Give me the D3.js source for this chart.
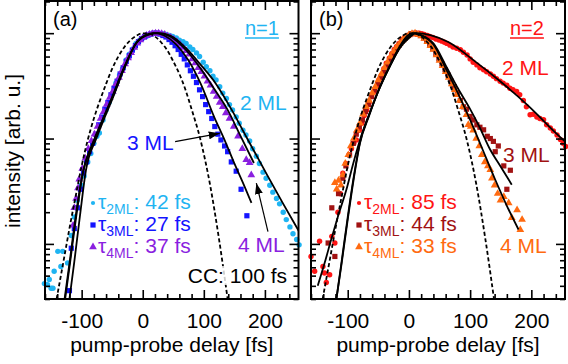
<!DOCTYPE html>
<html>
<head>
<meta charset="utf-8">
<script src="https://cdn.jsdelivr.net/npm/d3@7"></script>
<style>
body { margin: 0; background: #fff; }
svg { font-family: "Liberation Sans", Arial, sans-serif; }
</style>
</head>
<body>
<div id="chart"></div>
<script>
// axis set-up
var delayDomain = [-160, 255];
var intensityDomain = [0.003, 2.02];
var delayTicks = [-100, 0, 100, 200];
var intensityTicks = [0.01, 0.1, 1];

// cross correlation (dashed), same in both panels
var ccCurve = [[-141,0.003],[-130,0.0067],[-120,0.014],[-110,0.028],[-100,0.055],[-90,0.097],[-80,0.155],[-70,0.23],[-60,0.33],[-50,0.46],[-40,0.6],[-30,0.74],[-20,0.86],[-10,0.95],[0,0.997],[10,0.99],[20,0.93],[30,0.82],[40,0.69],[50,0.54],[60,0.41],[70,0.29],[80,0.19],[94,0.1],[110,0.037],[125,0.011],[139,0.003]];

// panel (a), n=1 : fits
var fitA2 = [[-128,0.003],[-120,0.0065],[-110,0.018],[-98,0.048],[-88,0.073],[-79,0.1],[-65,0.155],[-52,0.233],[-33,0.44],[-10,0.81],[10,0.97],[25,1.0],[45,0.95],[71,0.72],[95,0.5],[120,0.33],[145,0.19],[171,0.1],[202,0.047],[230,0.024],[258,0.0125]];
var fitA3 = [[-120,0.003],[-112,0.0068],[-103,0.018],[-93,0.05],[-76,0.1],[-62,0.16],[-50,0.235],[-31,0.45],[-10,0.82],[5,0.96],[18,1.0],[35,0.95],[55,0.78],[75,0.55],[95,0.33],[117,0.16],[133,0.1],[150,0.058],[165,0.037],[178,0.0245]];
var fitA4 = [[-127,0.003],[-119,0.0066],[-109,0.018],[-97,0.05],[-78,0.1],[-64,0.158],[-51,0.235],[-32,0.445],[-10,0.815],[8,0.97],[24,1.0],[45,0.93],[70,0.7],[95,0.46],[118,0.29],[139,0.187],[160,0.106],[182,0.0586]];

// panel (a) : measured points
var dataA2 = [[-161,0.0042],[-156,0.0041],[-153,0.0046],[-150,0.0038],[-147,0.0038],[-145,0.0055],[-139,0.0085],[-134,0.0061],[-131,0.0085],[-123,0.0066],[-117,0.012],[-112,0.018],[-107,0.026],[-101,0.036],[-96,0.044],[-90,0.06],[-85,0.072],[-80,0.09],[-75,0.105],[-71,0.113],[-65,0.15],[-60,0.187],[-55,0.22],[-49,0.27],[-44,0.336],[-38,0.4],[-33,0.46],[-27,0.558],[-22,0.63],[-16,0.71],[-11,0.8],[-5,0.86],[0,0.9],[6,0.93],[11,0.96],[16,0.98],[22,1.0],[27,1.0],[33,0.99],[38,0.97],[44,0.95],[49,0.93],[55,0.9],[60,0.86],[66,0.83],[71,0.8],[77,0.74],[82,0.7],[88,0.65],[93,0.6],[99,0.53],[104,0.48],[110,0.44],[115,0.39],[120,0.36],[126,0.31],[131,0.27],[137,0.24],[142,0.21],[147,0.187],[153,0.16],[158,0.14],[164,0.12],[169,0.108],[175,0.095],[180,0.08],[186,0.068],[191,0.058],[197,0.048],[202,0.042],[208,0.036],[213,0.031],[219,0.027],[224,0.024],[230,0.02],[235,0.017],[241,0.0145],[246,0.0125],[252,0.011],[256,0.0098]];
var dataA3 = [[-120,0.0036],[-117,0.0091],[-112,0.014],[-107,0.022],[-102,0.033],[-97,0.047],[-92,0.06],[-87,0.075],[-82,0.09],[-77,0.11],[-72,0.135],[-67,0.16],[-62,0.19],[-57,0.22],[-52,0.26],[-47,0.3],[-42,0.35],[-37,0.41],[-32,0.47],[-27,0.54],[-22,0.61],[-17,0.69],[-12,0.76],[-7,0.83],[-2,0.89],[3,0.93],[8,0.96],[13,0.98],[18,1.0],[23,1.0],[28,0.98],[33,0.95],[38,0.92],[43,0.87],[48,0.82],[53,0.76],[58,0.7],[63,0.63],[68,0.57],[73,0.5],[78,0.44],[83,0.39],[88,0.34],[93,0.29],[98,0.25],[103,0.21],[108,0.18],[113,0.155],[118,0.13],[123,0.11],[128,0.097],[134,0.085],[139,0.075],[145,0.06],[153,0.049],[161,0.033],[170.5,0.0185]];
var dataA4 = [[-114,0.015],[-112,0.022],[-109,0.027],[-106,0.034],[-104,0.041],[-99,0.052],[-94,0.065],[-89,0.08],[-84,0.095],[-79,0.11],[-74,0.13],[-69,0.155],[-64,0.18],[-59,0.21],[-54,0.245],[-49,0.28],[-44,0.33],[-39,0.38],[-34,0.44],[-29,0.51],[-24,0.58],[-19,0.65],[-14,0.73],[-9,0.8],[-4,0.86],[1,0.91],[6,0.95],[11,0.97],[16,0.99],[21,1.0],[26,1.0],[31,0.99],[36,0.97],[41,0.94],[46,0.91],[51,0.87],[56,0.83],[61,0.78],[66,0.73],[71,0.68],[76,0.63],[81,0.57],[86,0.52],[91,0.47],[96,0.43],[101,0.39],[106,0.35],[111,0.32],[116,0.28],[121,0.25],[126,0.22],[131,0.2],[136,0.175],[142,0.155],[149,0.13],[156,0.105],[163,0.08],[169.5,0.063],[175,0.059],[177.7,0.045]];

// panel (b), n=2 : fits
var fitB2 = [[-149,0.004],[-138,0.0065],[-127,0.011],[-115,0.019],[-102,0.033],[-91,0.058],[-80,0.097],[-65,0.17],[-47,0.31],[-30,0.5],[-15,0.72],[0,0.9],[12,1.0],[35,0.96],[65,0.82],[108,0.54],[149,0.35],[193,0.21],[242,0.11],[258,0.09]];
var fitB3 = [[-118.5,0.003],[-110,0.0065],[-100,0.017],[-90,0.042],[-80,0.09],[-65,0.165],[-47,0.31],[-30,0.5],[-15,0.73],[0,0.93],[8,1.0],[20,0.96],[40,0.8],[62,0.47],[80,0.3],[100,0.19],[115,0.13],[132,0.08],[150,0.054],[168,0.0365]];
var fitB4 = [[-118.5,0.003],[-110,0.0068],[-100,0.018],[-90,0.044],[-80,0.092],[-65,0.168],[-47,0.315],[-30,0.51],[-15,0.75],[-2,0.95],[6,1.0],[20,0.95],[40,0.78],[62,0.44],[80,0.27],[100,0.15],[118,0.085],[140,0.042],[160,0.023],[179,0.0137]];

// panel (b) : measured points
var dataB2 = [[-160,0.0076],[-154,0.0055],[-146,0.0106],[-140.5,0.0061],[-138,0.0053],[-135,0.0043],[-129.5,0.0051],[-126,0.0118],[-121,0.0102],[-116,0.02],[-112,0.03],[-108,0.047],[-103,0.058],[-98,0.07],[-94,0.08],[-90,0.09],[-86,0.097],[-81,0.12],[-77,0.14],[-73,0.165],[-69,0.187],[-65,0.22],[-61,0.25],[-57,0.28],[-53,0.31],[-49,0.36],[-45,0.4],[-41,0.46],[-37,0.52],[-32,0.58],[-28,0.64],[-24,0.7],[-20,0.75],[-16,0.8],[-12,0.86],[-8,0.9],[-4,0.93],[0,0.96],[4,0.98],[8,0.99],[13,1.0],[17,1.0],[21,0.99],[25,0.97],[30,0.95],[34,0.93],[39,0.91],[44,0.88],[49,0.86],[54,0.84],[58,0.82],[62,0.8],[67,0.77],[72,0.74],[78,0.72],[84,0.695],[89,0.66],[95,0.62],[100,0.57],[105,0.53],[111,0.5],[116,0.47],[122,0.45],[127,0.43],[133,0.41],[138,0.39],[143,0.37],[149,0.35],[154,0.336],[160,0.32],[165,0.3],[170,0.29],[176,0.28],[181,0.26],[187,0.23],[192,0.2],[198,0.168],[203,0.17],[209,0.16],[214,0.155],[220,0.151],[225,0.135],[231,0.126],[236,0.118],[242,0.108],[247.5,0.098],[252,0.09],[256,0.084]];
var dataB3 = [[-132,0.0102],[-126,0.022],[-121,0.0076],[-115,0.03],[-108,0.042],[-103,0.055],[-97,0.07],[-91,0.09],[-86,0.11],[-81,0.13],[-76,0.15],[-71,0.18],[-66,0.21],[-61,0.25],[-56,0.29],[-51,0.33],[-46,0.38],[-41,0.43],[-36,0.49],[-31,0.56],[-26,0.63],[-21,0.7],[-16,0.77],[-11,0.84],[-6,0.9],[-1,0.95],[4,0.99],[9,1.0],[14,0.98],[19,0.95],[24,0.9],[29,0.85],[34,0.78],[39,0.71],[44,0.64],[49,0.57],[54,0.51],[59,0.45],[64,0.4],[69,0.35],[74,0.31],[79,0.27],[84,0.23],[89,0.2],[94,0.19],[100,0.162],[105,0.15],[111,0.135],[116,0.128],[122,0.121],[128,0.105],[133,0.1],[138,0.094],[141,0.075],[146,0.085],[155,0.055],[160,0.033],[165.7,0.05]];
var dataB4 = [[-121,0.038],[-118,0.033],[-115,0.04],[-111,0.036],[-108,0.045],[-104,0.058],[-99,0.07],[-95,0.085],[-90,0.1],[-85,0.12],[-80,0.14],[-75,0.17],[-70,0.2],[-65,0.23],[-60,0.27],[-55,0.31],[-50,0.36],[-45,0.41],[-40,0.47],[-35,0.53],[-30,0.6],[-25,0.67],[-20,0.74],[-15,0.8],[-10,0.86],[-5,0.92],[0,0.96],[5,0.99],[10,1.0],[15,0.97],[20,0.94],[25,0.89],[30,0.83],[35,0.76],[40,0.7],[45,0.62],[50,0.55],[55,0.49],[60,0.43],[65,0.38],[70,0.33],[75,0.29],[78,0.26],[83,0.23],[88,0.2],[94,0.168],[97,0.135],[101,0.13],[105,0.12],[110,0.1],[115,0.085],[119,0.07],[124,0.06],[129,0.055],[133,0.0506],[135.6,0.042],[140,0.036],[145,0.03],[149.6,0.026],[155,0.028],[163,0.0245],[168,0.0177],[176.7,0.021],[182,0.0136],[184.9,0.017]];

// decay times for the legends
var tausA = ["42", "27", "37"];
var tausB = ["85", "44", "33"];
var layers = ["2ML", "3ML", "4ML"];

var width = 568, height = 364;
var plotTop = 1, plotBottom = 299;

var svg = d3.select("#chart")
	.append("svg")
	.attr("width", width)
	.attr("height", height);

// arrow head
svg.append("defs").append("marker")
	.attr("id", "arrow")
	.attr("markerUnits", "userSpaceOnUse")
	.attr("markerWidth", 11)
	.attr("markerHeight", 8)
	.attr("refX", 11)
	.attr("refY", 4)
	.attr("orient", "auto")
	.append("path")
	.attr("d", "M0,0 L11,4 L0,8 Z")
	.attr("fill", "#000");

function minorLogTicks(domain) {
	var out = [];
	[0.001, 0.01, 0.1, 1].forEach(function (dec) {
		for (var k = 2; k <= 9; k++) {
			var v = k * dec;
			if (v >= domain[0] && v <= domain[1]) out.push(v);
		}
	});
	return out;
}

function drawMarkers(g, data, shape, color, x, y) {
	var sel = g.append("g").attr("fill", color);
	if (shape == "circle") {
		sel.selectAll("circle").data(data).enter().append("circle")
			.attr("cx", function (d) { return x(d[0]); })
			.attr("cy", function (d) { return y(d[1]); })
			.attr("r", 2.7);
	} else if (shape == "square") {
		sel.selectAll("rect").data(data).enter().append("rect")
			.attr("x", function (d) { return x(d[0]) - 2.6; })
			.attr("y", function (d) { return y(d[1]) - 2.6; })
			.attr("width", 5.2).attr("height", 5.2);
	} else {
		sel.selectAll("path").data(data).enter().append("path")
			.attr("transform", function (d) { return "translate(" + x(d[0]) + "," + y(d[1]) + ")"; })
			.attr("d", d3.symbol(d3.symbolTriangle).size(26));
	}
}

function drawPanel(p) {
	var x = d3.scaleLinear().domain(delayDomain).range([p.left, p.right]);
	var y = d3.scaleLog().domain(intensityDomain).range([plotBottom, plotTop]);
	var g = svg.append("g");

	svg.select("defs").append("clipPath").attr("id", "clip-" + p.name)
		.append("rect")
		.attr("x", p.left).attr("y", plotTop)
		.attr("width", p.right - p.left).attr("height", plotBottom - plotTop);

	// measured points
	p.series.forEach(function (s) {
		drawMarkers(g, s.data, s.shape, s.color, x, y);
	});

	// fits and cross correlation
	var line = d3.line()
		.x(function (d) { return x(d[0]); })
		.y(function (d) { return y(d[1]); })
		.curve(d3.curveMonotoneX);
	var lines = g.append("g").attr("clip-path", "url(#clip-" + p.name + ")");
	lines.append("path").datum(ccCurve)
		.attr("d", line).attr("fill", "none")
		.attr("stroke", "#000").attr("stroke-width", 1.8)
		.attr("stroke-dasharray", "4,2.5");
	p.series.forEach(function (s) {
		lines.append("path").datum(s.fit)
			.attr("d", line).attr("fill", "none")
			.attr("stroke", "#000").attr("stroke-width", 1.8);
	});

	// ticks on all four sides, pointing inwards
	var minorX = d3.range(-160, 256, 20).filter(function (v) { return v % 100 != 0; });
	var minorY = minorLogTicks(intensityDomain);
	var axes = g.append("g").attr("class", "axes");
	var addAxis = function (axis, tr) {
		var a = axes.append("g").attr("transform", tr).call(axis);
		a.select(".domain").remove();
		a.selectAll(".tick line").attr("stroke-width", 1.6);
		return a;
	};
	var bottom = addAxis(d3.axisBottom(x).tickValues(delayTicks).tickSize(-9).tickPadding(14)
		.tickFormat(function (d) { return String(d); }), "translate(0," + plotBottom + ")");
	bottom.selectAll("text").attr("font-size", 21).attr("font-family", "Liberation Sans, Arial, sans-serif").attr("fill", "#000");
	addAxis(d3.axisBottom(x).tickValues(minorX).tickSize(-5).tickFormat(""), "translate(0," + plotBottom + ")");
	addAxis(d3.axisTop(x).tickValues(delayTicks).tickSize(-9).tickFormat(""), "translate(0," + plotTop + ")");
	addAxis(d3.axisTop(x).tickValues(minorX).tickSize(-5).tickFormat(""), "translate(0," + plotTop + ")");
	addAxis(d3.axisLeft(y).tickValues(intensityTicks).tickSize(-9).tickFormat(""), "translate(" + p.left + ",0)");
	addAxis(d3.axisLeft(y).tickValues(minorY).tickSize(-5).tickFormat(""), "translate(" + p.left + ",0)");
	addAxis(d3.axisRight(y).tickValues(intensityTicks).tickSize(-9).tickFormat(""), "translate(" + p.right + ",0)");
	addAxis(d3.axisRight(y).tickValues(minorY).tickSize(-5).tickFormat(""), "translate(" + p.right + ",0)");

	g.append("rect")
		.attr("x", p.left).attr("y", plotTop)
		.attr("width", p.right - p.left).attr("height", plotBottom - plotTop)
		.attr("fill", "none").attr("stroke", "#000").attr("stroke-width", 2);

	// x title
	g.append("text")
		.attr("x", (p.left + p.right) / 2).attr("y", 352)
		.attr("text-anchor", "middle").attr("font-size", 21)
		.text("pump-probe delay [fs]");

	// panel letter and order
	g.append("text").attr("x", p.left + 8).attr("y", 26).attr("font-size", 20).text(p.letter);
	var nt = g.append("text").attr("x", p.left + p.nX).attr("y", 35)
		.attr("font-size", 20).attr("fill", p.nColor).text(p.order);
	var bb = nt.node().getBBox();
	g.append("line").attr("x1", bb.x).attr("x2", bb.x + bb.width)
		.attr("y1", 38).attr("y2", 38).attr("stroke", p.nColor).attr("stroke-width", 1.5);

	// layer labels
	p.series.forEach(function (s) {
		g.append("text").attr("x", p.left + s.lx).attr("y", s.ly)
			.attr("font-size", 21).attr("fill", s.color).text(s.label);
	});

	// legend with decay times
	p.series.forEach(function (s, i) {
		var ly = 209 + i * 22;
		var mx = p.left + 48;
		var mk = g.append("g").attr("fill", s.color);
		if (s.shape == "circle") mk.append("circle").attr("cx", mx).attr("cy", ly - 6).attr("r", 2.1);
		else if (s.shape == "square") mk.append("rect").attr("x", mx - 2.6).attr("y", ly - 8.6).attr("width", 5.2).attr("height", 5.2);
		else mk.append("path").attr("transform", "translate(" + mx + "," + (ly - 6) + ")").attr("d", d3.symbol(d3.symbolTriangle).size(26));
		var t = g.append("text").attr("x", mx + 5).attr("y", ly).attr("font-size", 21).attr("fill", s.color);
		t.append("tspan").text("\u03c4");
		t.append("tspan").attr("font-size", 14).attr("dy", 5).text(layers[i]);
		t.append("tspan").attr("dy", -5).text(": " + p.taus[i] + " fs");
	});

	return { x: x, y: y, g: g };
}

var panelA = drawPanel({
	name: "a", left: 45, right: 298.5, letter: "(a)", order: "n=1", nX: 200, nColor: "#1fb4f2",
	taus: tausA,
	series: [
		{ data: dataA2, fit: fitA2, shape: "circle", color: "#1fb4f2", label: "2 ML", lx: 195, ly: 110 },
		{ data: dataA3, fit: fitA3, shape: "square", color: "#1414ff", label: "3 ML", lx: 82, ly: 150 },
		{ data: dataA4, fit: fitA4, shape: "triangle", color: "#8a1fe0", label: "4 ML", lx: 193, ly: 252 }
	]
});

var panelB = drawPanel({
	name: "b", left: 311, right: 565, letter: "(b)", order: "n=2", nX: 199, nColor: "#ff1414",
	taus: tausB,
	series: [
		{ data: dataB2, fit: fitB2, shape: "circle", color: "#ff1414", label: "2 ML", lx: 191, ly: 75 },
		{ data: dataB3, fit: fitB3, shape: "square", color: "#a11212", label: "3 ML", lx: 192, ly: 162 },
		{ data: dataB4, fit: fitB4, shape: "triangle", color: "#ff6a10", label: "4 ML", lx: 189, ly: 253 }
	]
});

// arrows in panel (a), given in data units
var xa = panelA.x, ya = panelA.y;
[[[53, 0.0935], [126, 0.112]], [[205, 0.0131], [186, 0.0377]]].forEach(function (a) {
	panelA.g.append("line")
		.attr("x1", xa(a[0][0])).attr("y1", ya(a[0][1]))
		.attr("x2", xa(a[1][0])).attr("y2", ya(a[1][1]))
		.attr("stroke", "#000").attr("stroke-width", 1.2)
		.attr("marker-end", "url(#arrow)");
});

// cross-correlation width, with a faint white patch where the dashed line crosses it
var ccG = panelA.g.append("g");
var ccBg = ccG.append("rect");
var cc = ccG.append("text")
	.attr("x", 287).attr("y", 283)
	.attr("text-anchor", "end").attr("font-size", 21)
	.text("CC: 100 fs");
var cb = cc.node().getBBox();
ccBg.attr("x", cb.x + 34).attr("y", cb.y + 2)
	.attr("width", 12).attr("height", cb.height - 4)
	.attr("fill", "#fff").attr("opacity", 0.8);

// y title
svg.append("text")
	.attr("transform", "translate(20,151) rotate(-90)")
	.attr("text-anchor", "middle").attr("font-size", 21)
	.text("intensity [arb. u.]");
</script>
</body>
</html>
